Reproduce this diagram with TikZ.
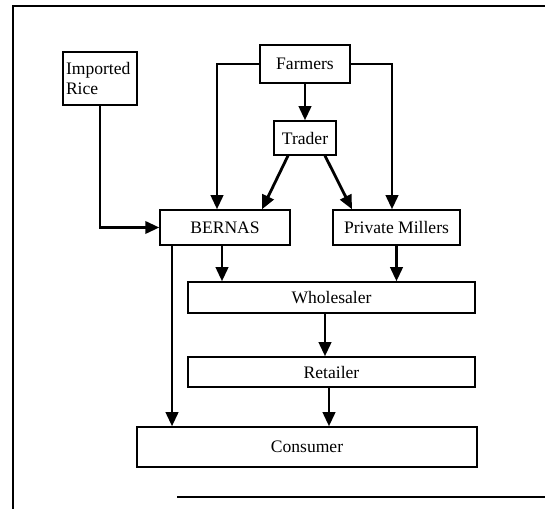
\documentclass[tikz,border=0pt]{standalone}
\usepackage{fontspec}
\setmainfont{Liberation Serif}
\usetikzlibrary{arrows.meta}

\begin{document}
\begin{tikzpicture}[x=0.02cm, y=-0.02cm,
		box/.style={draw, line width=0.8pt, inner sep=0pt, font=\fontsize{10}{11}\selectfont},
		flow/.style={line width=1.6pt, -{Triangle[length=8pt,width=7pt]}}]
			%%%%% START %%%%%
			
			\useasboundingbox (0, 0) rectangle (545, 509);
			
			\draw[line width=0.8pt] (13, 509) -- (13, 6) -- (545, 6);
			\draw[line width=0.6pt] (177, 497) -- (545, 497);
			
			\node[box, minimum width=1.48cm, minimum height=1.06cm, align=left, text width=1.36cm] (imp) at (100, 78.5) {Imported\\Rice};
			\node[box, minimum width=1.8cm, minimum height=0.76cm] (farm) at (305, 64) {Farmers};
			\node[box, minimum width=1.24cm, minimum height=0.68cm] (trad) at (305, 138) {Trader};
			
			\node[box, minimum width=2.6cm, minimum height=0.7cm] (bern) at (225, 227.5) {BERNAS};
			\node[box, minimum width=2.54cm, minimum height=0.7cm] (priv) at (396.5, 227.5) {Private Millers};
			
			\node[box, minimum width=5.74cm, minimum height=0.62cm] (whol) at (331.5, 297.5) {Wholesaler};
			\node[box, minimum width=5.74cm, minimum height=0.6cm] (ret) at (331.5, 372) {Retailer};
			\node[box, minimum width=6.8cm, minimum height=0.8cm] (cons) at (307, 447) {Consumer};
			
			\draw[flow] (imp.south) |- (bern.west);
			\draw[flow] (farm.west) -| ([xshift=-0.16cm]bern.north);
			\draw[flow] (farm.east) -| ([xshift=-0.09cm]priv.north);
			\draw[flow] (farm) -- (trad);
			
			\draw[flow] ([xshift=-0.34cm]trad.south) -- ([xshift=0.74cm]bern.north);
			\draw[flow] ([xshift=0.4cm]trad.south) -- ([xshift=-0.89cm]priv.north);
			
			\draw[flow] ([xshift=-0.06cm]bern.south) -- ([xshift=-0.06cm]bern.south |- whol.north);
			\draw[flow] (priv.south) -- (priv.south |- whol.north);
			\draw[flow] ([xshift=-1.06cm]bern.south) -- ([xshift=-1.06cm]bern.south |- cons.north);
			
			\draw[flow] ([xshift=-0.13cm]whol.south) -- ([xshift=-0.13cm]whol.south |- ret.north);
			\draw[flow] ([xshift=-0.05cm]ret.south) -- ([xshift=-0.05cm]ret.south |- cons.north);
			
			%%%%% END %%%%%
\end{tikzpicture}
\end{document}
